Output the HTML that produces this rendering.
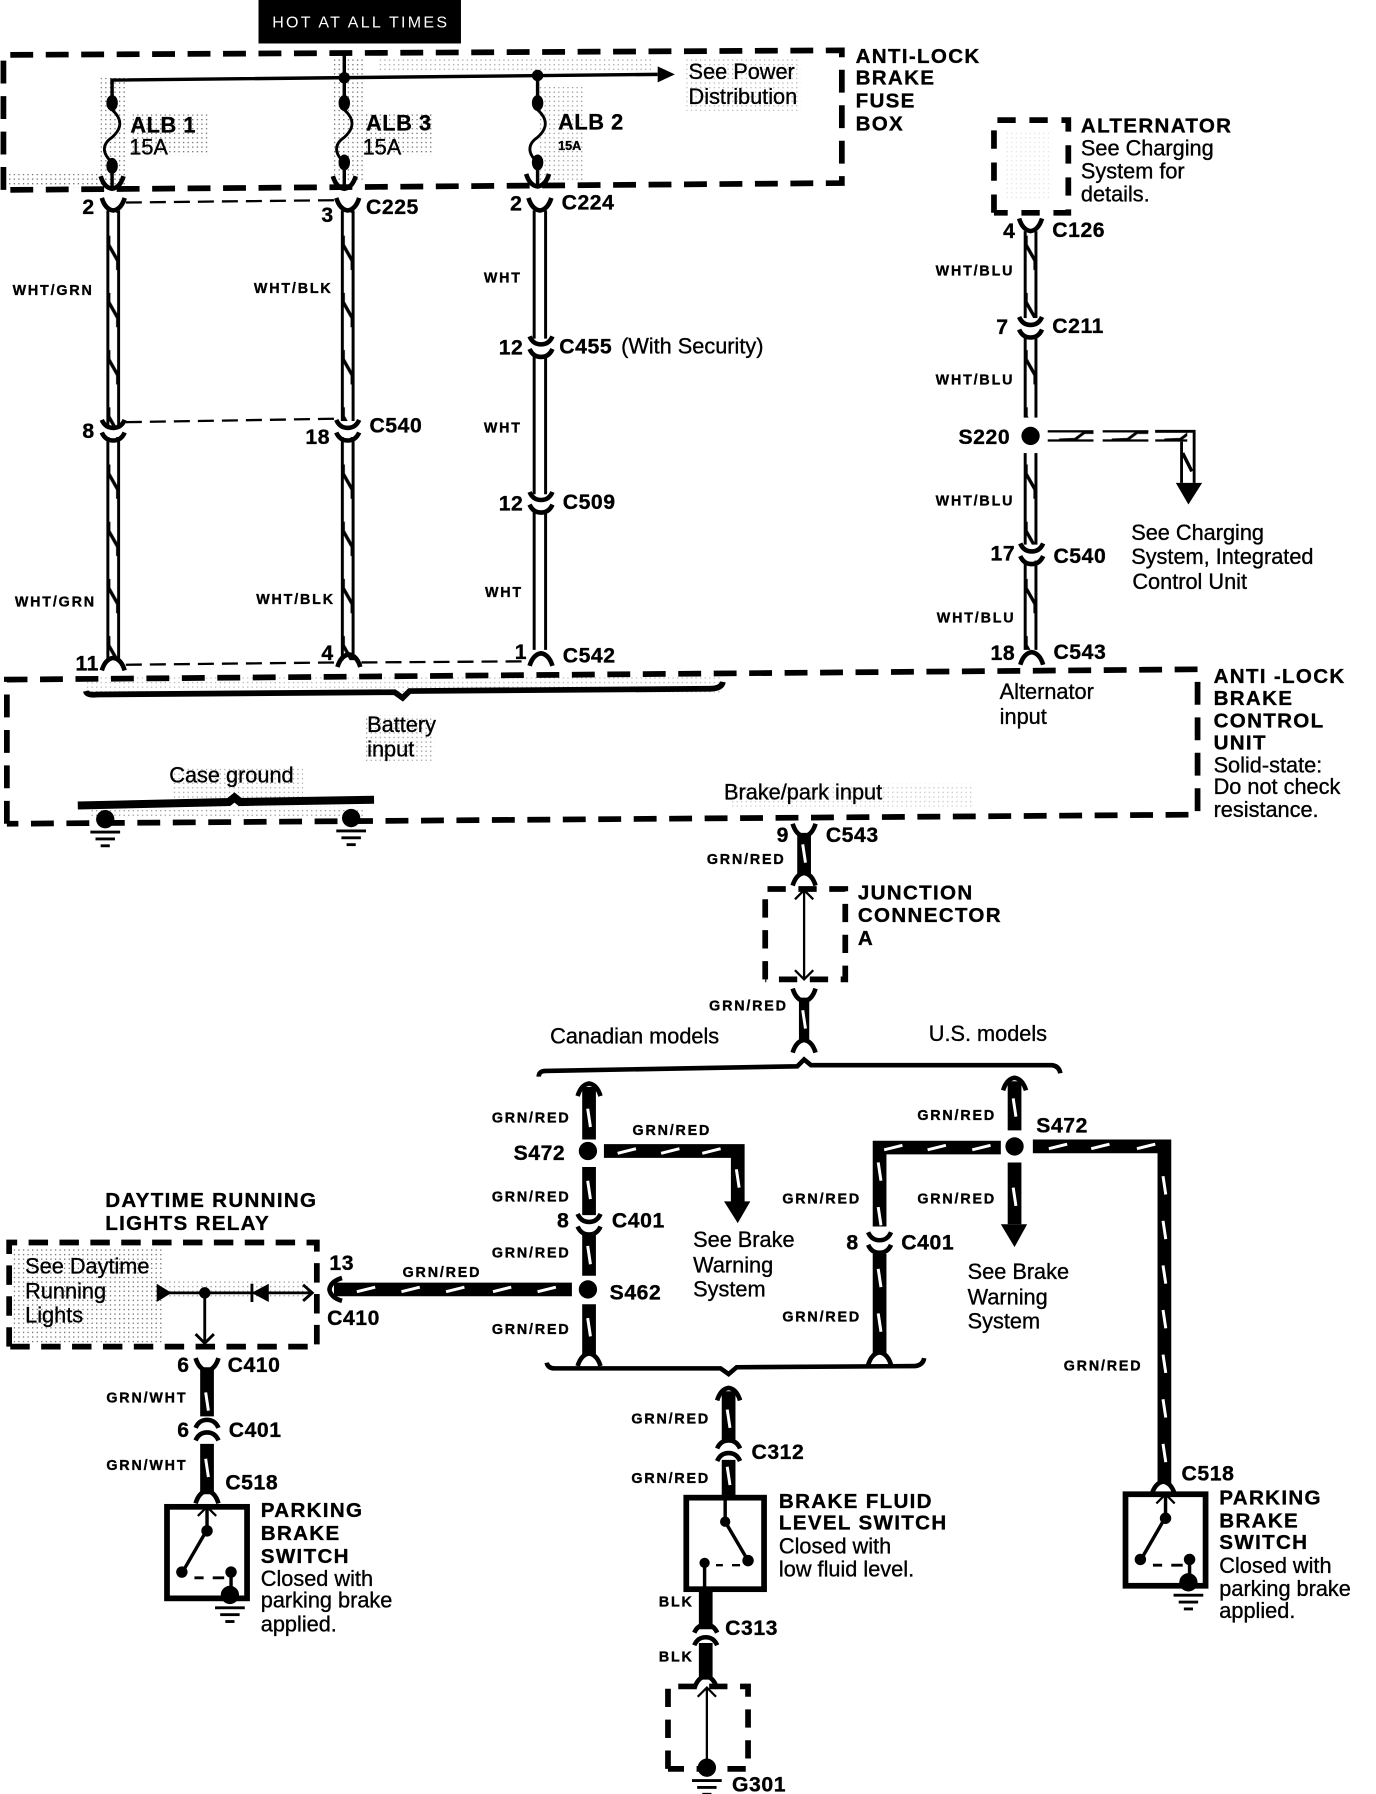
<!DOCTYPE html>
<html><head><meta charset="utf-8"><style>
html,body{margin:0;padding:0;background:#fff}
svg{display:block}
text{font-family:"Liberation Sans",sans-serif;fill:#000;stroke:#000;stroke-width:.3px}
.b{font-weight:bold;font-size:18px;letter-spacing:1.15px}
.c{font-weight:bold;font-size:18.5px;letter-spacing:.5px}
.r{font-size:19px}
.s{font-weight:bold;font-size:12.5px;letter-spacing:1.6px}
.n{fill:none;stroke:#000}
.d{fill:none;stroke:#000;stroke-width:5;stroke-dasharray:20 11}
.w{fill:none;stroke:#000;stroke-width:12}
</style></head><body>
<svg width="1376" height="1794" viewBox="0 0 1203 1568" preserveAspectRatio="none" xmlns="http://www.w3.org/2000/svg">
<defs>
<pattern id="z" patternUnits="userSpaceOnUse" x="-6" width="12" height="50">
<rect width="12" height="50" fill="#fff"/><rect x="0" width="2.6" height="50"/><rect x="9.4" width="2.6" height="50"/>
<path d="M2,6 L2,14 L10,28 L10,36" fill="none" stroke="#000" stroke-width="3"/>
</pattern>
<pattern id="zh" patternUnits="userSpaceOnUse" y="-5" width="46" height="10">
<rect width="46" height="10" fill="#fff"/><rect y="0" width="46" height="2"/><rect y="8" width="46" height="2"/>
<path d="M6,8.5 L20,8 L28,2 L38,2" fill="none" stroke="#000" stroke-width="2.5"/>
</pattern>
<pattern id="p" patternUnits="userSpaceOnUse" width="4" height="4"><rect width="1.1" height="1.1" fill="#666"/></pattern>
<path id="dv" d="M-1.2,-8 L1.2,8" stroke="#fff" stroke-width="2.6" fill="none"/>
<path id="dh" d="M-8,2 L8,-2" stroke="#fff" stroke-width="2.6" fill="none"/>
<g id="pair"><path d="M-10,-9 Q-7,-2 0,-2 Q7,-2 10,-9" fill="none" stroke="#000" stroke-width="4"/><path d="M-10,2 Q-7,9 0,9 Q7,9 10,2" fill="none" stroke="#000" stroke-width="4"/></g>
<g id="pairu"><path d="M-10,-2 Q-7,-9 0,-9 Q7,-9 10,-2" fill="none" stroke="#000" stroke-width="4"/><path d="M-10,9 Q-7,2 0,2 Q7,2 10,9" fill="none" stroke="#000" stroke-width="4"/></g>
<path id="yd" d="M-10,-8 Q-7,2 0,3 Q7,2 10,-8" fill="none" stroke="#000" stroke-width="4"/>
<path id="yu" d="M-10,8 Q-7,-2 0,-3 Q7,-2 10,8" fill="none" stroke="#000" stroke-width="4"/>
<g id="gnd"><circle cx="0" cy="-4" r="8"/><rect x="-13" y="6" width="26" height="2.5"/><rect x="-8.5" y="12" width="17" height="2.5"/><rect x="-4" y="18" width="8" height="2.5"/></g>
<path id="fuse" d="M0,0 C9,8 9,16 0,24 C-9,30 -9,38 0,46" fill="none" stroke="#000" stroke-width="2.5"/>
<g id="sw">
<rect x="0" y="0" width="70" height="80" fill="#fff" stroke="#000" stroke-width="5"/>
<path d="M35,-2 V20 L13,58" fill="none" stroke="#000" stroke-width="3"/>
<path d="M27,8 L35,0 L43,8" fill="none" stroke="#000" stroke-width="2"/>
<circle cx="35" cy="21" r="5"/><circle cx="13" cy="57" r="5"/><circle cx="56" cy="57" r="5"/>
<path d="M24,62 H32 M40,62 H50" stroke="#000" stroke-width="2.5"/><path d="M56,57 V78" stroke="#000" stroke-width="3"/>
</g>
</defs>

<!-- shading -->
<g fill="url(#p)">
<rect x="5" y="152" width="105" height="12"/><rect x="88" y="68" width="22" height="90"/><rect x="115" y="100" width="68" height="36"/>
<rect x="292" y="50" width="26" height="110"/><rect x="318" y="98" width="60" height="38"/><rect x="330" y="50" width="240" height="14" opacity=".6"/>
<rect x="470" y="75" width="40" height="85" opacity=".7"/><rect x="600" y="52" width="100" height="45" opacity=".5"/>
<rect x="75" y="592" width="555" height="14" opacity=".5"/><rect x="320" y="625" width="60" height="40" opacity=".7"/><rect x="150" y="670" width="115" height="30" opacity=".6"/>
<rect x="80" y="705" width="240" height="10" opacity=".7"/><rect x="640" y="685" width="210" height="20" opacity=".4"/>
<rect x="12" y="1090" width="130" height="85"/><rect x="130" y="1118" width="140" height="16" opacity=".7"/>
<rect x="880" y="115" width="40" height="60" opacity=".2"/>
</g>

<!-- top label -->
<rect x="226" y="0" width="177" height="38"/>
<text x="238" y="24" style="fill:#fff;stroke:none;font-size:14px;letter-spacing:2px">HOT AT ALL TIMES</text>

<!-- fuse box -->
<path class="d" d="M3,166 V48 L736,44 V160 L3,166"/>
<path class="n" stroke-width="3" d="M98,72 V70 L575,65"/>
<polygon points="575,58 590,65 575,72"/>
<path class="n" stroke-width="3" d="M301,46 V74 M98,70 V90 M301,68 V90 M470,66 V90 M98,144 V163 M301,144 V163 M470,144 V163"/>
<circle cx="301" cy="68" r="5"/><circle cx="470" cy="66" r="5"/>
<ellipse cx="98" cy="90" rx="5" ry="7"/><ellipse cx="98" cy="145" rx="5" ry="7"/><use href="#fuse" x="98" y="96"/><use href="#yd" x="98" y="162"/>
<ellipse cx="301" cy="90" rx="5" ry="7"/><ellipse cx="301" cy="142" rx="5" ry="7"/><use href="#fuse" x="301" y="96"/><use href="#yd" x="301" y="162"/>
<ellipse cx="470" cy="90" rx="5" ry="7"/><ellipse cx="470" cy="142" rx="5" ry="7"/><use href="#fuse" x="470" y="96"/><use href="#yd" x="470" y="160"/>
<text class="c" x="114" y="116" style="font-size:19px">ALB 1</text><text class="r" x="113" y="135">15A</text>
<text class="c" x="320" y="114" style="font-size:19px">ALB 3</text><text class="r" x="317" y="135">15A</text>
<text class="c" x="488" y="113" style="font-size:19px">ALB 2</text><text x="488" y="131" style="font-weight:bold;font-size:11px">15A</text>
<text class="r" x="602" y="69">See Power</text><text class="r" x="602" y="91">Distribution</text>
<text class="b" x="748" y="55">ANTI-LOCK</text><text class="b" x="748" y="74">BRAKE</text><text class="b" x="748" y="94">FUSE</text><text class="b" x="748" y="114">BOX</text>

<!-- left wires -->
<g transform="translate(99 0)"><rect x="-6" y="184" width="12" height="188" fill="url(#z)"/><rect x="-6" y="382" width="12" height="195" fill="url(#z)"/></g>
<g transform="translate(304 0)"><rect x="-6" y="184" width="12" height="184" fill="url(#z)"/><rect x="-6" y="382" width="12" height="195" fill="url(#z)"/></g>
<path class="n" stroke-width="2.6" d="M467,184 V296 M477,184 V296 M467,310 V432 M477,310 V432 M467,446 V568 M477,446 V568"/>
<use href="#yd" x="99" y="181"/><use href="#yd" x="304" y="181"/><use href="#yd" x="472" y="181"/>
<use href="#pair" x="99" y="376"/><use href="#pair" x="304" y="376"/><use href="#pair" x="473" y="303"/><use href="#pair" x="473" y="439"/>
<use href="#yu" x="99" y="578"/><use href="#yu" x="305" y="575"/><use href="#yu" x="473" y="574"/>
<path class="n" stroke-width="2" stroke-dasharray="14 7" d="M110,177 L292,175 M110,369 L292,366 M110,581 L295,579 M316,579 L462,578"/>
<text class="c" x="72" y="187">2</text><text class="c" x="281" y="194">3</text><text class="c" x="320" y="187">C225</text>
<text class="c" x="446" y="184">2</text><text class="c" x="491" y="183">C224</text>
<text class="s" x="11" y="258">WHT/GRN</text><text class="s" x="222" y="256">WHT/BLK</text><text class="s" x="423" y="247">WHT</text>
<text class="c" x="436" y="310">12</text><text class="c" x="489" y="309">C455</text><text class="r" x="543" y="309">(With Security)</text>
<text class="s" x="423" y="378">WHT</text><text class="c" x="72" y="383">8</text><text class="c" x="267" y="388">18</text><text class="c" x="323" y="378">C540</text>
<text class="c" x="436" y="446">12</text><text class="c" x="492" y="445">C509</text><text class="s" x="424" y="522">WHT</text>
<text class="s" x="13" y="530">WHT/GRN</text><text class="s" x="224" y="528">WHT/BLK</text>
<text class="c" x="66" y="586">11</text><text class="c" x="281" y="577">4</text><text class="c" x="450" y="576">1</text><text class="c" x="492" y="579">C542</text>

<!-- alternator -->
<path class="d" d="M869,186 V105 H934 V186 H869" style="stroke-dasharray:16 12"/>
<text class="b" x="945" y="116">ALTERNATOR</text><text class="r" x="945" y="136">See Charging</text><text class="r" x="945" y="156">System for</text><text class="r" x="945" y="176">details.</text>
<g transform="translate(901 0)"><rect x="-6" y="202" width="12" height="76" fill="url(#z)"/><rect x="-6" y="293" width="12" height="72" fill="url(#z)"/><rect x="-6" y="396" width="12" height="80" fill="url(#z)"/><rect x="-6" y="490" width="12" height="78" fill="url(#z)"/></g>
<use href="#yd" x="901" y="199"/><use href="#pair" x="901" y="286"/><use href="#pair" x="902" y="484"/><use href="#yu" x="902" y="573"/>
<circle cx="901" cy="381" r="8"/>
<g transform="translate(0 381)"><rect x="916" y="-5" width="40" height="10" fill="url(#zh)"/><rect x="964" y="-5" width="40" height="10" fill="url(#zh)"/><rect x="1010" y="-5" width="28" height="10" fill="url(#zh)"/></g>
<path class="n" stroke-width="2.5" d="M1010,377 H1044 V422 M1033,386 V422"/><path class="n" stroke-width="3" d="M1034,396 L1042,412"/>
<polygon points="1028,422 1051,422 1039,441"/>
<text class="c" x="838" y="388">S220</text><text class="c" x="877" y="208">4</text><text class="c" x="920" y="207">C126</text>
<text class="c" x="871" y="292">7</text><text class="c" x="920" y="291">C211</text>
<text class="s" x="818" y="241">WHT/BLU</text><text class="s" x="818" y="336">WHT/BLU</text><text class="s" x="818" y="442">WHT/BLU</text><text class="s" x="819" y="544">WHT/BLU</text>
<text class="c" x="866" y="490">17</text><text class="c" x="921" y="492">C540</text><text class="c" x="866" y="577">18</text><text class="c" x="921" y="576">C543</text>
<text class="r" x="989" y="472">See Charging</text><text class="r" x="989" y="493">System, Integrated</text><text class="r" x="990" y="515">Control Unit</text>

<!-- control unit -->
<path class="d" d="M6,720 V594 L1047,585 V712 L6,720"/>
<path class="n" stroke-width="5" d="M75,604 Q76,608 85,607 L345,605 L352,610 L358,604 L620,602 Q631,602 632,596"/>
<text class="r" x="321" y="640">Battery</text><text class="r" x="321" y="661">input</text>
<text class="r" x="874" y="611">Alternator</text><text class="r" x="874" y="633">input</text>
<text class="r" x="148" y="684">Case ground</text>
<path class="n" stroke-width="7" d="M68,704 L200,701 L205,697 L210,701 L327,699"/>
<use href="#gnd" x="92" y="720"/><use href="#gnd" x="307" y="719"/>
<text class="r" x="633" y="699">Brake/park input</text>
<text class="b" x="1061" y="597">ANTI -LOCK</text><text class="b" x="1061" y="616">BRAKE</text><text class="b" x="1061" y="636">CONTROL</text><text class="b" x="1061" y="655">UNIT</text>
<text class="r" x="1061" y="675">Solid-state:</text><text class="r" x="1061" y="694">Do not check</text><text class="r" x="1061" y="714">resistance.</text>

<!-- junction -->
<text class="c" x="679" y="736">9</text><text class="c" x="722" y="736">C543</text>
<path class="w" d="M703,728 V764"/><use href="#yd" x="703" y="728"/><use href="#yu" x="703" y="766"/><use href="#dv" x="703" y="746"/>
<text class="s" x="618" y="755">GRN/RED</text>
<path class="d" d="M669,856 V777 H739 V856 H669" style="stroke-dasharray:16 11"/>
<path class="n" stroke-width="2" d="M703,778 V856 M695,786 L703,778 L711,786 M695,848 L703,856 L711,848"/>
<text class="b" x="750" y="786">JUNCTION</text><text class="b" x="750" y="806">CONNECTOR</text><text class="b" x="750" y="826">A</text>
<text class="s" x="620" y="883">GRN/RED</text>
<path class="w" d="M703,872 V910" style="stroke-width:9"/><use href="#dv" x="703" y="891"/><use href="#yd" x="703" y="872"/><use href="#yu" x="703" y="912"/>
<text class="r" x="481" y="912">Canadian models</text><text class="r" x="812" y="910">U.S. models</text>
<path class="n" stroke-width="4" d="M471,941 Q471,936 477,936 L697,932 L703,926 L709,931 L920,931 Q926,932 927,938"/>

<!-- canadian -->
<path class="w" d="M515,950 V996 M515,1020 V1062 M515,1078 V1115 M515,1140 V1184"/>
<use href="#dv" x="515" y="977"/><use href="#dv" x="515" y="1040"/><use href="#dv" x="515" y="1097"/><use href="#dv" x="515" y="1160"/>
<use href="#yu" x="515" y="950"/><use href="#pair" x="515" y="1070"/><use href="#yu" x="515" y="1186"/>
<circle cx="514" cy="1006" r="8"/><circle cx="514" cy="1127" r="8"/>
<path class="w" d="M528,1006 H645 V1052"/><polygon points="633,1050 656,1050 645,1069"/>
<use href="#dh" x="548" y="1006"/><use href="#dh" x="586" y="1006"/><use href="#dh" x="622" y="1006"/><use href="#dv" x="645" y="1030"/>
<text class="s" x="430" y="981">GRN/RED</text><text class="s" x="553" y="992">GRN/RED</text><text class="c" x="449" y="1014">S472</text>
<text class="s" x="430" y="1050">GRN/RED</text><text class="c" x="487" y="1073">8</text><text class="c" x="535" y="1073">C401</text>
<text class="s" x="430" y="1099">GRN/RED</text><text class="c" x="533" y="1136">S462</text><text class="s" x="430" y="1166">GRN/RED</text>
<text class="r" x="606" y="1090">See Brake</text><text class="r" x="606" y="1112">Warning</text><text class="r" x="606" y="1133">System</text>
<path class="w" d="M292,1127 H500"/><use href="#yu" transform="translate(291 1127) rotate(-90)"/>
<use href="#dh" x="320" y="1127"/><use href="#dh" x="359" y="1127"/><use href="#dh" x="398" y="1127"/><use href="#dh" x="439" y="1127"/><use href="#dh" x="478" y="1127"/>
<text class="s" x="352" y="1116">GRN/RED</text><text class="c" x="288" y="1110">13</text><text class="c" x="286" y="1158">C410</text>

<!-- us -->
<path class="w" d="M887,945 V988 M887,1016 V1070"/><use href="#yu" x="887" y="945"/><use href="#dv" x="887" y="968"/><use href="#dv" x="887" y="1046"/>
<circle cx="887" cy="1002" r="8"/><polygon points="875,1070 898,1070 887,1090"/>
<path class="w" d="M875,1003 H769 V1072 M769,1096 V1184"/>
<use href="#dh" x="781" y="1003"/><use href="#dh" x="819" y="1003"/><use href="#dh" x="858" y="1003"/>
<use href="#dv" x="769" y="1024"/><use href="#dv" x="769" y="1063"/><use href="#dv" x="769" y="1117"/><use href="#dv" x="769" y="1156"/>
<use href="#pair" x="769" y="1086"/><use href="#yu" x="769" y="1185"/>
<path class="w" d="M903,1002 H1018 V1297"/>
<use href="#dh" x="925" y="1002"/><use href="#dh" x="962" y="1002"/><use href="#dh" x="1002" y="1002"/>
<use href="#dv" x="1018" y="1036"/><use href="#dv" x="1018" y="1075"/><use href="#dv" x="1018" y="1114"/><use href="#dv" x="1018" y="1153"/><use href="#dv" x="1018" y="1192"/><use href="#dv" x="1018" y="1231"/><use href="#dv" x="1018" y="1270"/>
<use href="#yu" x="1017" y="1298"/>
<text class="s" x="802" y="979">GRN/RED</text><text class="c" x="906" y="990">S472</text><text class="s" x="802" y="1052">GRN/RED</text>
<text class="s" x="684" y="1052">GRN/RED</text><text class="c" x="740" y="1092">8</text><text class="c" x="788" y="1092">C401</text><text class="s" x="684" y="1155">GRN/RED</text>
<text class="r" x="846" y="1118">See Brake</text><text class="r" x="846" y="1140">Warning</text><text class="r" x="846" y="1161">System</text>
<text class="s" x="930" y="1198">GRN/RED</text><text class="c" x="1033" y="1294">C518</text>
<path class="n" stroke-width="4" d="M478,1191 Q479,1196 485,1196 L630,1196 L637,1201 L644,1195 L800,1194 Q807,1193 808,1187"/>

<!-- center -->
<path class="w" d="M637,1216 V1260 M637,1276 V1308"/><use href="#dv" x="637" y="1240"/><use href="#dv" x="637" y="1290"/><use href="#yu" x="637" y="1216"/><use href="#pairu" x="637" y="1268"/>
<text class="s" x="552" y="1244">GRN/RED</text><text class="c" x="657" y="1275">C312</text><text class="s" x="552" y="1296">GRN/RED</text>
<rect x="600" y="1309" width="68" height="80" fill="#fff" stroke="#000" stroke-width="5"/>
<path class="n" stroke-width="3" d="M634,1309 V1330 L654,1364"/><circle cx="634" cy="1330" r="4.5"/><circle cx="654" cy="1364" r="5"/><circle cx="616" cy="1366" r="4.5"/>
<path d="M616,1366 V1387" class="n" stroke-width="3"/><path d="M626,1368 H632 M640,1368 H647" class="n" stroke-width="2"/>
<text class="b" x="681" y="1318">BRAKE FLUID</text><text class="b" x="681" y="1337">LEVEL SWITCH</text><text class="r" x="681" y="1358">Closed with</text><text class="r" x="681" y="1378">low fluid level.</text>
<path class="w" d="M617,1390 V1424 M617,1436 V1468"/><use href="#pairu" x="617" y="1429"/><use href="#yu" x="617" y="1468"/>
<text class="s" x="576" y="1404">BLK</text><text class="s" x="576" y="1452">BLK</text><text class="c" x="634" y="1429">C313</text>
<path class="d" d="M584,1546 V1474 H654 V1546 H584" style="stroke-dasharray:16 11"/>
<path class="n" stroke-width="2" d="M618,1475 V1540 M610,1483 L618,1475 L626,1483"/>
<use href="#gnd" x="618" y="1549"/>
<text class="c" x="640" y="1566">G301</text>

<!-- relay -->
<text class="b" x="92" y="1055">DAYTIME RUNNING</text><text class="b" x="92" y="1075">LIGHTS RELAY</text>
<path class="d" d="M8,1177 V1086 H277 V1177 H8" style="stroke-dasharray:17 10"/>
<text class="r" x="22" y="1113">See Daytime</text><text class="r" x="22" y="1135">Running</text><text class="r" x="22" y="1156">Lights</text>
<path class="n" stroke-width="2.5" d="M140,1130 H272 M265,1123 L273,1130 L265,1137 M179,1130 V1174 M171,1166 L179,1174 L187,1166"/>
<polygon points="137,1122 150,1130 137,1138"/><polygon points="235,1122 220,1130 235,1138"/><rect x="219" y="1122" width="2.5" height="16"/><circle cx="179" cy="1130" r="5"/>
<text class="c" x="155" y="1199">6</text><text class="c" x="199" y="1199">C410</text>
<path class="w" d="M181,1195 V1238 M181,1262 V1306"/><use href="#dv" x="181" y="1225"/><use href="#dv" x="181" y="1283"/>
<use href="#yd" x="181" y="1195"/><use href="#pairu" x="181" y="1250"/><use href="#yu" x="181" y="1306"/>
<text class="s" x="93" y="1226">GRN/WHT</text><text class="c" x="155" y="1256">6</text><text class="c" x="200" y="1256">C401</text><text class="s" x="93" y="1285">GRN/WHT</text><text class="c" x="197" y="1302">C518</text>
<use href="#sw" x="146" y="1317"/><use href="#gnd" x="201" y="1398"/>
<text class="b" x="228" y="1326">PARKING</text><text class="b" x="228" y="1346">BRAKE</text><text class="b" x="228" y="1366">SWITCH</text>
<text class="r" x="228" y="1386">Closed with</text><text class="r" x="228" y="1405">parking brake</text><text class="r" x="228" y="1426">applied.</text>

<!-- right switch -->
<use href="#sw" x="984" y="1306"/><use href="#gnd" x="1039" y="1387"/>
<text class="b" x="1066" y="1315">PARKING</text><text class="b" x="1066" y="1335">BRAKE</text><text class="b" x="1066" y="1354">SWITCH</text>
<text class="r" x="1066" y="1375">Closed with</text><text class="r" x="1066" y="1395">parking brake</text><text class="r" x="1066" y="1414">applied.</text>
</svg>
</body></html>
